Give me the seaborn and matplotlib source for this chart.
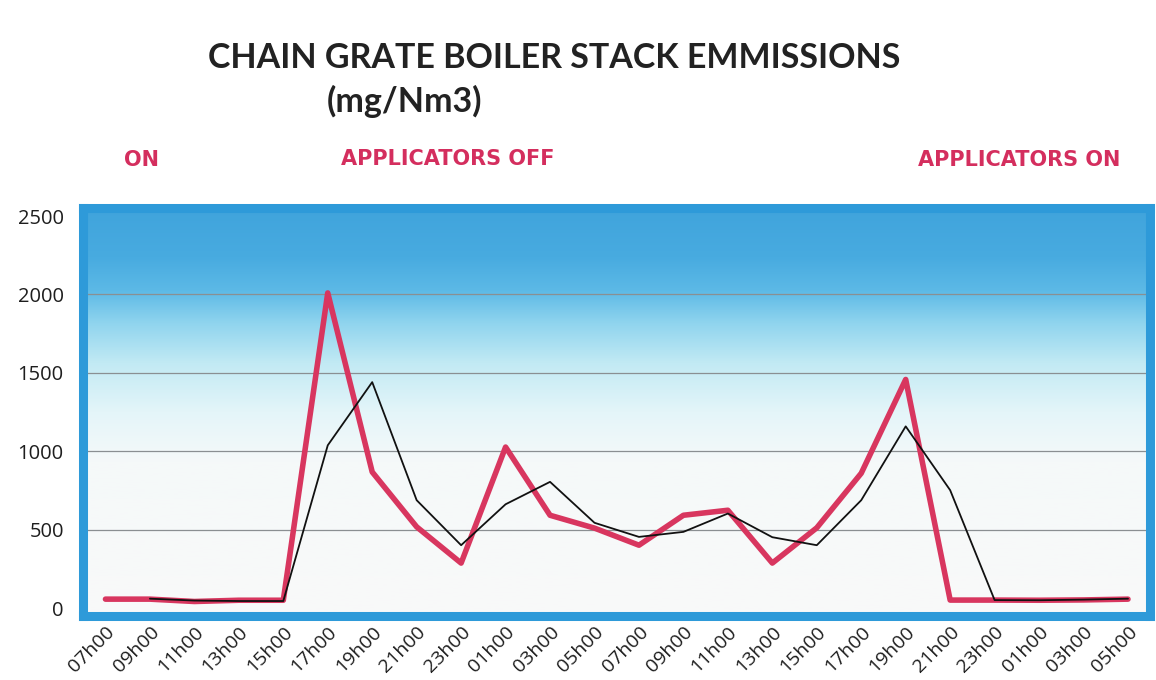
import numpy as np
import pandas as pd
import matplotlib
matplotlib.use('Agg')
import matplotlib.pyplot as plt
import seaborn as sns
from matplotlib.colors import LinearSegmentedColormap

# Data
hours = ['07h00', '09h00', '11h00', '13h00', '15h00', '17h00', '19h00', '21h00',
         '23h00', '01h00', '03h00', '05h00', '07h00', '09h00', '11h00', '13h00',
         '15h00', '17h00', '19h00', '21h00', '23h00', '01h00', '03h00', '05h00']
red_series = [57, 57, 42, 50, 50, 2010, 868, 518, 287, 1027, 592, 510,
              401, 592, 624, 287, 512, 860, 1458, 51, 51, 50, 52, 57]
black_series = [None, 60, 48, 45, 45, 1038, 1441, 688, 401, 662, 805, 544,
                454, 486, 603, 452, 401, 688, 1159, 752, 51, 50, 54, 60]
y_ticks = [0, 500, 1000, 1500, 2000, 2500]

df = pd.DataFrame({'idx': np.arange(len(hours)),
                   'red': red_series,
                   'black': pd.to_numeric(pd.Series(black_series))})

sns.set_style('white')
plt.rcParams['font.family'] = ['Open Sans', 'DejaVu Sans']

fig = plt.figure(figsize=(11.56, 6.8), dpi=100)
ax = fig.add_axes([0.072, 0.094, 0.923, 0.600])

# gradient background: blue top, fading to white below ~1000
cmap = LinearSegmentedColormap.from_list('bg', [
    (0.0, '#f9f9f9'), (0.38, '#f5f9fa'), (0.50, '#e4f5f9'),
    (0.62, '#c2eaf4'), (0.72, '#8fd4ee'), (0.80, '#5cb9e6'),
    (0.88, '#48abe0'), (1.0, '#40a4dc')])
grad = np.linspace(0, 1, 256).reshape(-1, 1)
ax.imshow(grad, aspect='auto', cmap=cmap, origin='lower',
          extent=[-0.5, 23.5, -51, 2551], zorder=0)

for t in y_ticks[1:-1]:
    ax.axhline(t, color='#8a8f92', lw=0.9, zorder=1)

sns.lineplot(data=df, x='idx', y='red', ax=ax, color='#d8365f', lw=4, zorder=3)
sns.lineplot(data=df, x='idx', y='black', ax=ax, color='#111111', lw=1.3, zorder=4)

ax.set_xlim(-0.5, 23.5)
ax.set_ylim(-51, 2551)
ax.set_yticks(y_ticks)
ax.set_yticklabels([str(t) for t in y_ticks], fontsize=14.5, color='#1e1e1e')
ax.set_xticks(np.arange(len(hours)))
ax.set_xticklabels(hours, rotation=45, ha='right', rotation_mode='anchor',
                   fontsize=14, color='#1e1e1e')
ax.tick_params(axis='y', pad=14, length=0)
ax.tick_params(axis='x', pad=5, length=0)
ax.set_xlabel('')
ax.set_ylabel('')
for s in ax.spines.values():
    s.set_color('#2e9ad9')
    s.set_linewidth(6.5)

fig.text(0.479, 0.915, 'CHAIN GRATE BOILER STACK EMMISSIONS', ha='center', va='center',
         fontsize=24.5, fontweight='bold', color='#222222', family=['Lato', 'DejaVu Sans'])
fig.text(0.350, 0.851, '(mg/Nm3)', ha='center', va='center',
         fontsize=24.5, fontweight='bold', color='#222222', family=['Lato', 'DejaVu Sans'])

red_txt = '#d42e5e'
for x, y, s in [(0.122, 0.764, 'ON'), (0.387, 0.766, 'APPLICATORS OFF'),
                (0.882, 0.764, 'APPLICATORS ON')]:
    fig.text(x, y, s, ha='center', va='center', fontsize=15, fontweight='heavy',
             color=red_txt, family=['DejaVu Sans'])

plt.savefig('out.png', dpi=100, facecolor='white')
